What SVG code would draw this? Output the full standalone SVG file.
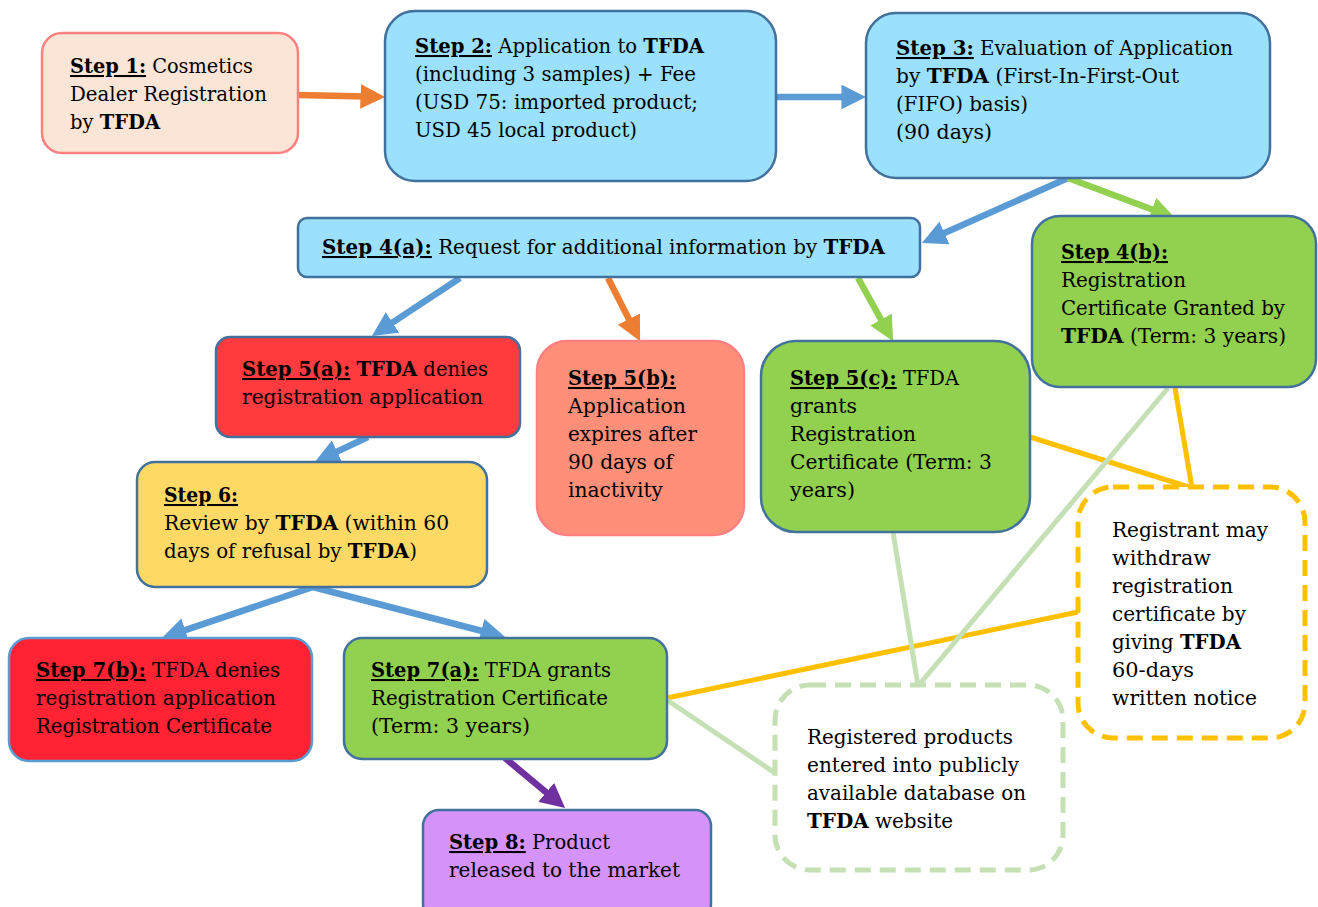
<svg xmlns="http://www.w3.org/2000/svg" width="1318" height="907" viewBox="0 0 1318 907">
<style>
.t{font-family:"DejaVu Serif","Liberation Serif",serif;font-size:20.5px;fill:#000}
.b{font-weight:bold}
.u{font-weight:bold;text-decoration:underline}
.n{stroke-width:2.5}
.ar{fill:none;stroke-width:6.5}
.ln{fill:none;stroke-width:5}
</style>
<defs>
<marker id="mO" viewBox="0 0 10 10" refX="6.7" refY="5" markerWidth="3.8" markerHeight="3.8" orient="auto"><path d="M0,0 L10,5 L0,10 z" fill="#ED7D31"/></marker>
<marker id="mB" viewBox="0 0 10 10" refX="6.7" refY="5" markerWidth="3.8" markerHeight="3.8" orient="auto"><path d="M0,0 L10,5 L0,10 z" fill="#5B9BD5"/></marker>
<marker id="mG" viewBox="0 0 10 10" refX="6.7" refY="5" markerWidth="3.8" markerHeight="3.8" orient="auto"><path d="M0,0 L10,5 L0,10 z" fill="#92D050"/></marker>
<marker id="mP" viewBox="0 0 10 10" refX="6.7" refY="5" markerWidth="3.8" markerHeight="3.8" orient="auto"><path d="M0,0 L10,5 L0,10 z" fill="#7030A0"/></marker>
</defs>
<rect width="1318" height="907" fill="#fff"/>

<g id="connectors">
<path class="ln" stroke="#FFC000" d="M1030,437 L1192,488"/>
<path class="ln" stroke="#FFC000" d="M1175,388 L1192,488"/>
<path class="ln" stroke="#FFC000" d="M667,698 L1078,612"/>
<path class="ln" stroke="#C5E0B4" d="M667,700 L775,773"/>
<path class="ln" stroke="#C5E0B4" d="M893,532 L918,686"/>
<path class="ln" stroke="#C5E0B4" d="M1168,388 L918,686"/>
<path class="ar" stroke="#ED7D31" marker-end="url(#mO)" d="M298,95 L377,96.8"/>
<path class="ar" stroke="#5B9BD5" marker-end="url(#mB)" d="M776,97 L858,97"/>
<path class="ar" stroke="#5B9BD5" marker-end="url(#mB)" d="M1068,178 L929.3,239.7"/>
<path class="ar" stroke="#92D050" marker-end="url(#mG)" d="M1068,178 L1167.5,215.2"/>
<path class="ar" stroke="#5B9BD5" marker-end="url(#mB)" d="M460,278 L378.7,331.6"/>
<path class="ar" stroke="#ED7D31" marker-end="url(#mO)" d="M608,278 L636.4,333.9"/>
<path class="ar" stroke="#92D050" marker-end="url(#mG)" d="M858,278 L889.1,334"/>
<path class="ar" stroke="#5B9BD5" marker-end="url(#mB)" d="M368,437 L322.2,458.6"/>
<path class="ar" stroke="#5B9BD5" marker-end="url(#mB)" d="M313,587 L169.6,635.4"/>
<path class="ar" stroke="#5B9BD5" marker-end="url(#mB)" d="M313,587 L497.3,635"/>
<path class="ar" stroke="#7030A0" marker-end="url(#mP)" d="M505,758 L558.9,802.9"/>
</g>

<g id="step1">
<rect class="n" x="42" y="33" width="256" height="120" rx="20" fill="#FBE5D6" stroke="#FF8080"/>
<text class="t" x="70" y="73" textLength="183" lengthAdjust="spacingAndGlyphs"><tspan class="u">Step 1:</tspan> Cosmetics</text>
<text class="t" x="70" y="101" textLength="197" lengthAdjust="spacingAndGlyphs">Dealer Registration</text>
<text class="t" x="70" y="129" textLength="90" lengthAdjust="spacingAndGlyphs">by <tspan class="b">TFDA</tspan></text>
</g>

<g id="step2">
<rect class="n" x="385" y="11" width="391" height="170" rx="30" fill="#9BE0FC" stroke="#41719C"/>
<text class="t" x="415" y="53" textLength="289" lengthAdjust="spacingAndGlyphs"><tspan class="u">Step 2:</tspan> Application to <tspan class="b">TFDA</tspan></text>
<text class="t" x="415" y="81" textLength="281" lengthAdjust="spacingAndGlyphs">(including 3 samples) + Fee</text>
<text class="t" x="415" y="109" textLength="283" lengthAdjust="spacingAndGlyphs">(USD 75: imported product;</text>
<text class="t" x="415" y="137" textLength="222" lengthAdjust="spacingAndGlyphs">USD 45 local product)</text>
</g>

<g id="step3">
<rect class="n" x="866" y="13" width="404" height="165" rx="30" fill="#9BE0FC" stroke="#41719C"/>
<text class="t" x="896" y="55" textLength="337" lengthAdjust="spacingAndGlyphs"><tspan class="u">Step 3:</tspan> Evaluation of Application</text>
<text class="t" x="896" y="83" textLength="283" lengthAdjust="spacingAndGlyphs">by <tspan class="b">TFDA</tspan> (First-In-First-Out</text>
<text class="t" x="896" y="111" textLength="132" lengthAdjust="spacingAndGlyphs">(FIFO) basis)</text>
<text class="t" x="896" y="139" textLength="96" lengthAdjust="spacingAndGlyphs">(90 days)</text>
</g>

<g id="step4a">
<rect class="n" x="298" y="218" width="622" height="59" rx="9" fill="#9BE0FC" stroke="#41719C"/>
<text class="t" x="322" y="254" textLength="563" lengthAdjust="spacingAndGlyphs"><tspan class="u">Step 4(a):</tspan> Request for additional information by <tspan class="b">TFDA</tspan></text>
</g>

<g id="step4b">
<rect class="n" x="1032" y="216" width="284" height="171" rx="28" fill="#92D050" stroke="#41719C"/>
<text class="t" x="1061" y="259" textLength="107" lengthAdjust="spacingAndGlyphs"><tspan class="u">Step 4(b):</tspan></text>
<text class="t" x="1061" y="287" textLength="125" lengthAdjust="spacingAndGlyphs">Registration</text>
<text class="t" x="1061" y="315" textLength="224" lengthAdjust="spacingAndGlyphs">Certificate Granted by</text>
<text class="t" x="1061" y="343" textLength="225" lengthAdjust="spacingAndGlyphs"><tspan class="b">TFDA</tspan> (Term: 3 years)</text>
</g>

<g id="step5a">
<rect class="n" x="216" y="337" width="304" height="100" rx="14" fill="#FF3B3F" stroke="#41719C"/>
<text class="t" x="242" y="376" textLength="246" lengthAdjust="spacingAndGlyphs"><tspan class="u">Step 5(a):</tspan> <tspan class="b">TFDA</tspan> denies</text>
<text class="t" x="242" y="404" textLength="241" lengthAdjust="spacingAndGlyphs">registration application</text>
</g>

<g id="step5b">
<rect class="n" x="537" y="341" width="207" height="194" rx="30" fill="#FF8F79" stroke="#FF8080"/>
<text class="t" x="568" y="385" textLength="108" lengthAdjust="spacingAndGlyphs"><tspan class="u">Step 5(b):</tspan></text>
<text class="t" x="568" y="413" textLength="118" lengthAdjust="spacingAndGlyphs">Application</text>
<text class="t" x="568" y="441" textLength="129" lengthAdjust="spacingAndGlyphs">expires after</text>
<text class="t" x="568" y="469" textLength="105" lengthAdjust="spacingAndGlyphs">90 days of</text>
<text class="t" x="568" y="497" textLength="95" lengthAdjust="spacingAndGlyphs">inactivity</text>
</g>

<g id="step5c">
<rect class="n" x="761" y="341" width="269" height="191" rx="35" fill="#92D050" stroke="#41719C"/>
<text class="t" x="790" y="385" textLength="169" lengthAdjust="spacingAndGlyphs"><tspan class="u">Step 5(c):</tspan> TFDA</text>
<text class="t" x="790" y="413" textLength="67" lengthAdjust="spacingAndGlyphs">grants</text>
<text class="t" x="790" y="441" textLength="126" lengthAdjust="spacingAndGlyphs">Registration</text>
<text class="t" x="790" y="469" textLength="202" lengthAdjust="spacingAndGlyphs">Certificate (Term: 3</text>
<text class="t" x="790" y="497" textLength="65" lengthAdjust="spacingAndGlyphs">years)</text>
</g>

<g id="step6">
<rect class="n" x="137" y="462" width="350" height="125" rx="18" fill="#FFD966" stroke="#41719C"/>
<text class="t" x="164" y="502" textLength="74" lengthAdjust="spacingAndGlyphs"><tspan class="u">Step 6:</tspan></text>
<text class="t" x="164" y="530" textLength="285" lengthAdjust="spacingAndGlyphs">Review by <tspan class="b">TFDA</tspan> (within 60</text>
<text class="t" x="164" y="558" textLength="253" lengthAdjust="spacingAndGlyphs">days of refusal by <tspan class="b">TFDA</tspan>)</text>
</g>

<g id="step7b">
<rect class="n" x="9" y="638" width="303" height="123" rx="20" fill="#FF2333" stroke="#5B9BD5"/>
<text class="t" x="36" y="677" textLength="244" lengthAdjust="spacingAndGlyphs"><tspan class="u">Step 7(b):</tspan> TFDA denies</text>
<text class="t" x="36" y="705" textLength="240" lengthAdjust="spacingAndGlyphs">registration application</text>
<text class="t" x="36" y="733" textLength="236" lengthAdjust="spacingAndGlyphs">Registration Certificate</text>
</g>

<g id="step7a">
<rect class="n" x="344" y="638" width="323" height="121" rx="18" fill="#92D050" stroke="#41719C"/>
<text class="t" x="371" y="677" textLength="240" lengthAdjust="spacingAndGlyphs"><tspan class="u">Step 7(a):</tspan> TFDA grants</text>
<text class="t" x="371" y="705" textLength="237" lengthAdjust="spacingAndGlyphs">Registration Certificate</text>
<text class="t" x="371" y="733" textLength="159" lengthAdjust="spacingAndGlyphs">(Term: 3 years)</text>
</g>

<g id="step8">
<rect class="n" x="423" y="810" width="288" height="110" rx="16" fill="#D592F8" stroke="#41719C"/>
<text class="t" x="449" y="849" textLength="161" lengthAdjust="spacingAndGlyphs"><tspan class="u">Step 8:</tspan> Product</text>
<text class="t" x="449" y="877" textLength="231" lengthAdjust="spacingAndGlyphs">released to the market</text>
</g>

<g id="note-withdraw">
<rect x="1078" y="487" width="227" height="251" rx="35" fill="#fff" stroke="#FFC000" stroke-width="5" stroke-dasharray="16 9"/>
<text class="t" x="1112" y="537" textLength="156" lengthAdjust="spacingAndGlyphs">Registrant may</text>
<text class="t" x="1112" y="565" textLength="99" lengthAdjust="spacingAndGlyphs">withdraw</text>
<text class="t" x="1112" y="593" textLength="121" lengthAdjust="spacingAndGlyphs">registration</text>
<text class="t" x="1112" y="621" textLength="134" lengthAdjust="spacingAndGlyphs">certificate by</text>
<text class="t" x="1112" y="649" textLength="129" lengthAdjust="spacingAndGlyphs">giving <tspan class="b">TFDA</tspan></text>
<text class="t" x="1112" y="677" textLength="82" lengthAdjust="spacingAndGlyphs">60-days</text>
<text class="t" x="1112" y="705" textLength="145" lengthAdjust="spacingAndGlyphs">written notice</text>
</g>

<g id="note-database">
<rect x="775" y="685" width="288" height="185" rx="35" fill="#fff" stroke="#C5E0B4" stroke-width="5" stroke-dasharray="16 9"/>
<text class="t" x="807" y="744" textLength="206" lengthAdjust="spacingAndGlyphs">Registered products</text>
<text class="t" x="807" y="772" textLength="212" lengthAdjust="spacingAndGlyphs">entered into publicly</text>
<text class="t" x="807" y="800" textLength="219" lengthAdjust="spacingAndGlyphs">available database on</text>
<text class="t" x="807" y="828" textLength="146" lengthAdjust="spacingAndGlyphs"><tspan class="b">TFDA</tspan> website</text>
</g>
</svg>
